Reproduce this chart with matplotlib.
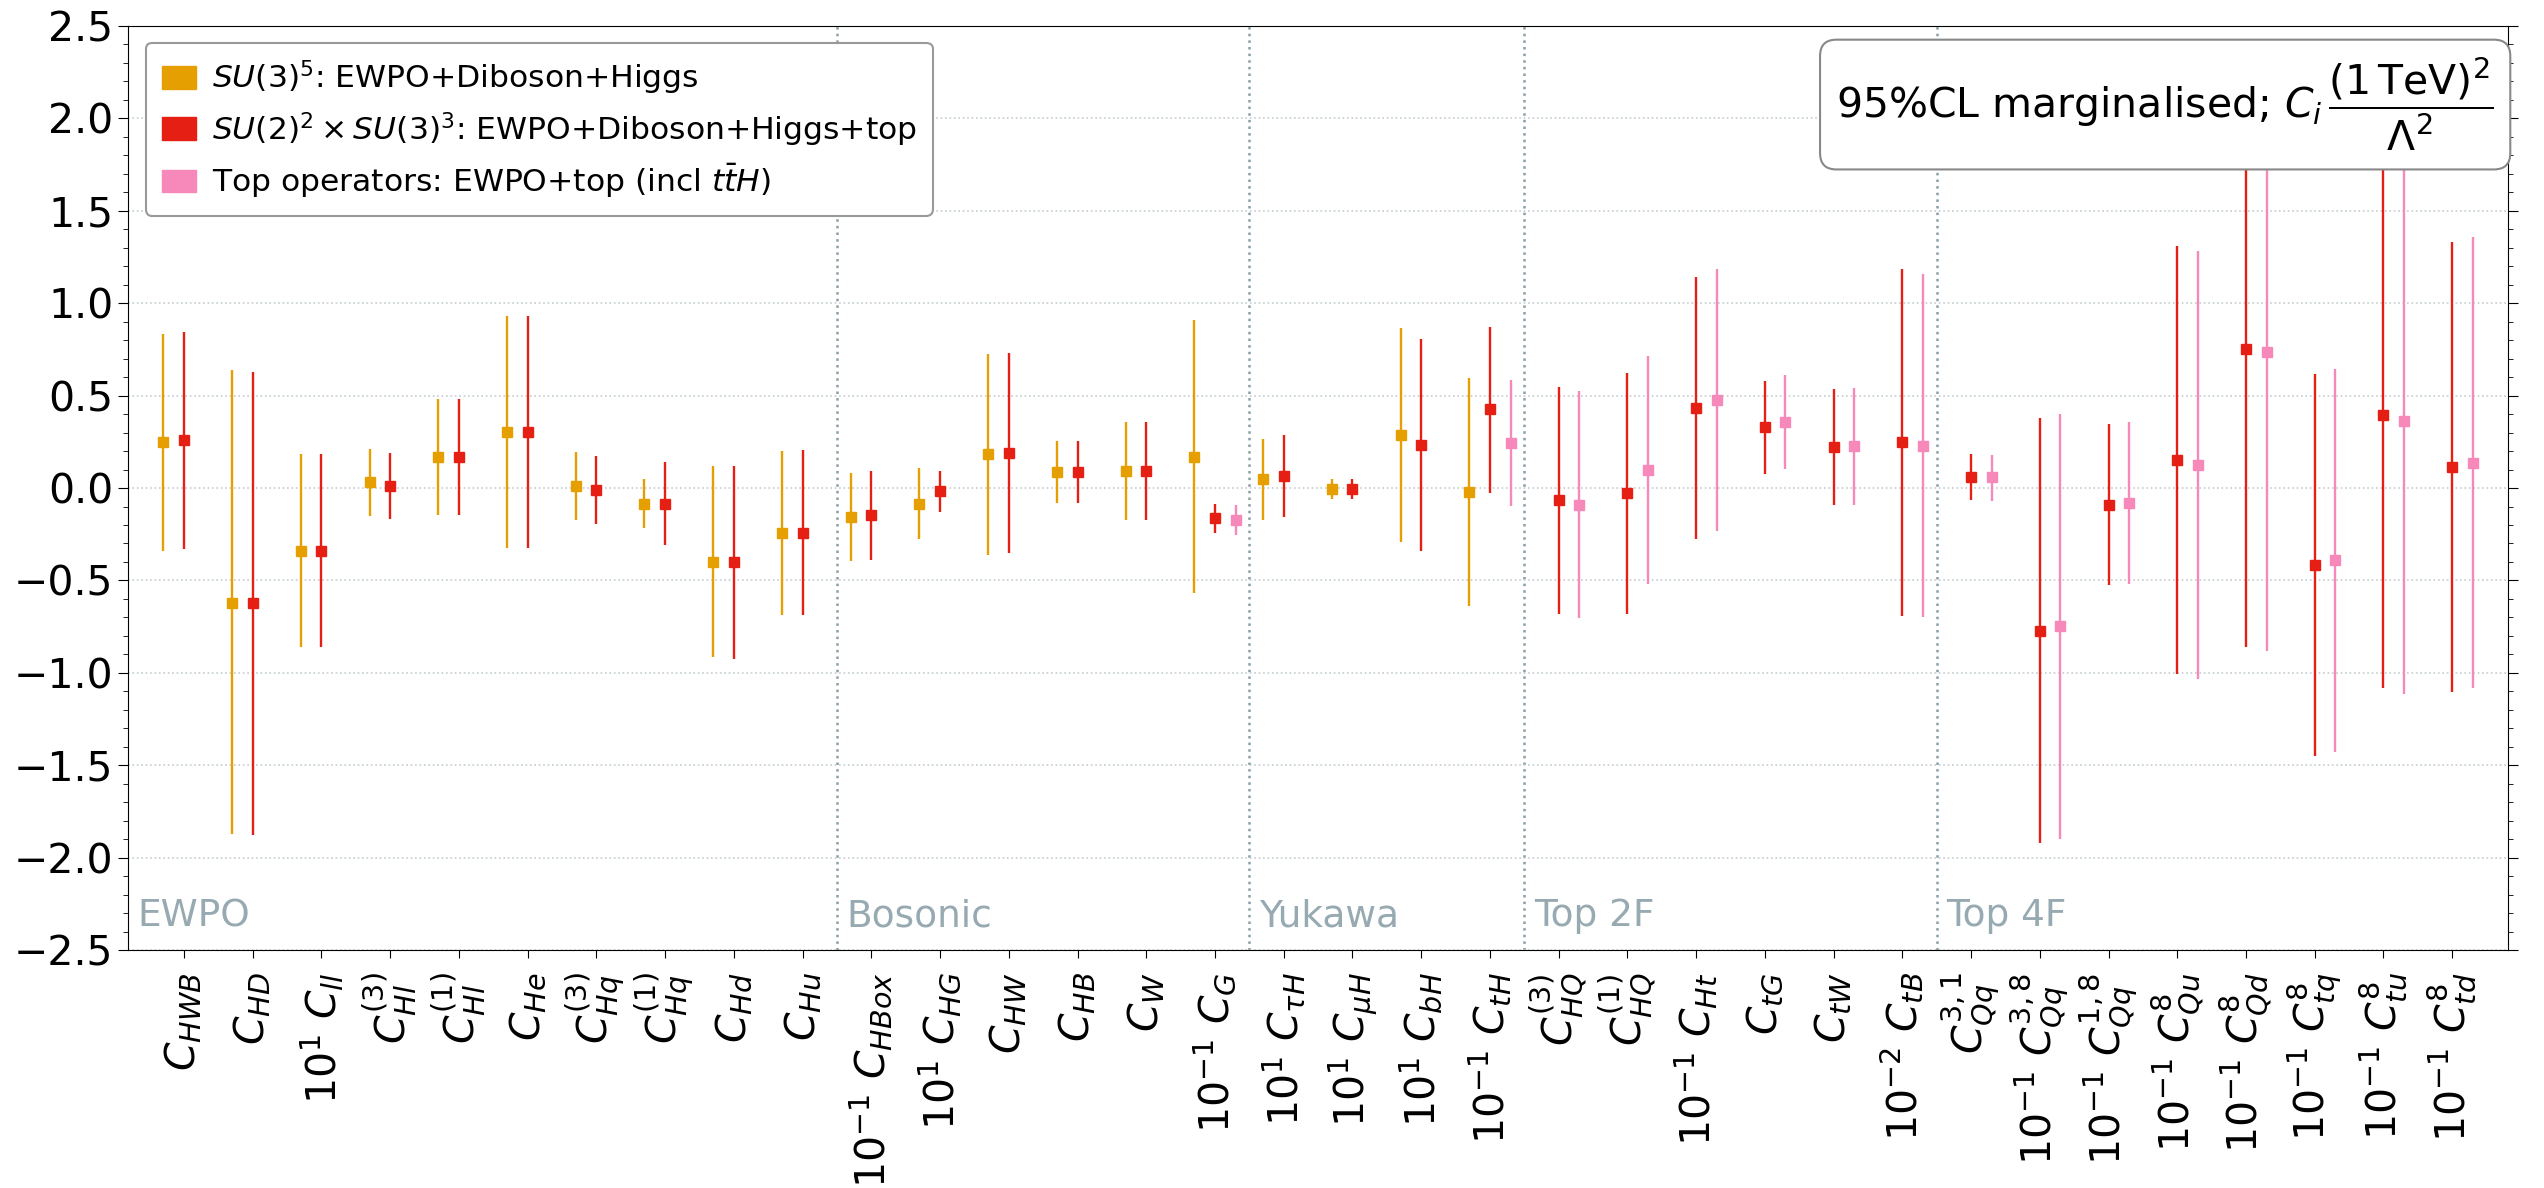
import numpy as np
import matplotlib
matplotlib.use("Agg")
import matplotlib.pyplot as plt
from matplotlib.patches import Patch
from matplotlib.ticker import MultipleLocator

# operator labels, one per column
labels = [
    r'$C_{HWB}$', r'$C_{HD}$', r'$10^{1}\ C_{ll}$', r'$C_{Hl}^{(3)}$', r'$C_{Hl}^{(1)}$',
    r'$C_{He}$', r'$C_{Hq}^{(3)}$', r'$C_{Hq}^{(1)}$', r'$C_{Hd}$', r'$C_{Hu}$',
    r'$10^{-1}\ C_{HBox}$', r'$10^{1}\ C_{HG}$', r'$C_{HW}$', r'$C_{HB}$', r'$C_{W}$',
    r'$10^{-1}\ C_{G}$',
    r'$10^{1}\ C_{\tau H}$', r'$10^{1}\ C_{\mu H}$', r'$10^{1}\ C_{bH}$', r'$10^{-1}\ C_{tH}$',
    r'$C_{HQ}^{(3)}$', r'$C_{HQ}^{(1)}$', r'$10^{-1}\ C_{Ht}$', r'$C_{tG}$', r'$C_{tW}$',
    r'$10^{-2}\ C_{tB}$',
    r'$C_{Qq}^{3,1}$', r'$10^{-1}\ C_{Qq}^{3,8}$', r'$10^{-1}\ C_{Qq}^{1,8}$',
    r'$10^{-1}\ C_{Qu}^{8}$', r'$10^{-1}\ C_{Qd}^{8}$', r'$10^{-1}\ C_{tq}^{8}$',
    r'$10^{-1}\ C_{tu}^{8}$', r'$10^{-1}\ C_{td}^{8}$',
]

# sections: name, index of first operator
sections = ["EWPO", "Bosonic", "Yukawa", "Top 2F", "Top 4F"]
section_start = [0, 10, 16, 20, 26]

# SU(3)^5 fit (EWPO+Diboson+Higgs), operators 0..19
su3_idx = list(range(20))
su3_mid = [0.25, -0.62, -0.34, 0.03, 0.17, 0.303, 0.011, -0.085, -0.399, -0.242,
           -0.155, -0.085, 0.182, 0.085, 0.094, 0.17, 0.047, -0.004, 0.285, -0.02]
su3_lo = [-0.34, -1.872, -0.859, -0.152, -0.144, -0.325, -0.175, -0.218, -0.916, -0.685,
          -0.397, -0.278, -0.361, -0.083, -0.173, -0.568, -0.175, -0.058, -0.292, -0.639]
su3_hi = [0.835, 0.637, 0.182, 0.209, 0.48, 0.931, 0.193, 0.047, 0.121, 0.198,
          0.083, 0.108, 0.725, 0.253, 0.357, 0.907, 0.267, 0.051, 0.866, 0.597]

# SU(2)^2 x SU(3)^3 fit (EWPO+Diboson+Higgs+top), all operators
su2_idx = list(range(34))
su2_mid = [0.26, -0.622, -0.339, 0.011, 0.17, 0.305, -0.009, -0.085, -0.402, -0.242,
           -0.146, -0.018, 0.191, 0.087, 0.09, -0.164, 0.067, -0.004, 0.234, 0.426,
           -0.067, -0.029, 0.435, 0.328, 0.224, 0.249,
           0.06, -0.772, -0.09, 0.15, 0.754, -0.417, 0.397, 0.112]
su2_lo = [-0.328, -1.878, -0.86, -0.17, -0.144, -0.325, -0.193, -0.31, -0.923, -0.689,
          -0.388, -0.132, -0.35, -0.079, -0.173, -0.244, -0.157, -0.058, -0.341, -0.025,
          -0.68, -0.68, -0.278, 0.076, -0.092, -0.691,
          -0.065, -1.921, -0.527, -1.005, -0.86, -1.452, -1.08, -1.106]
su2_hi = [0.846, 0.63, 0.182, 0.188, 0.482, 0.933, 0.171, 0.142, 0.117, 0.207,
          0.094, 0.094, 0.732, 0.256, 0.357, -0.085, 0.285, 0.051, 0.808, 0.871,
          0.545, 0.624, 1.144, 0.579, 0.538, 1.187,
          0.184, 0.377, 0.348, 1.308, 2.37, 0.617, 1.87, 1.331]

# top-only fit (EWPO+top incl ttH)
top_idx = [15, 19] + list(range(20, 34))
top_mid = [-0.171, 0.244, -0.09, 0.099, 0.478, 0.359, 0.225, 0.229,
           0.058, -0.749, -0.083, 0.124, 0.735, -0.392, 0.364, 0.137]
top_lo = [-0.253, -0.097, -0.704, -0.518, -0.233, 0.103, -0.092, -0.70,
          -0.069, -1.897, -0.518, -1.034, -0.88, -1.427, -1.113, -1.08]
top_hi = [-0.092, 0.583, 0.523, 0.714, 1.185, 0.613, 0.541, 1.16,
          0.18, 0.402, 0.355, 1.282, 2.35, 0.644, 1.84, 1.356]

c_su3 = '#E69F00'
c_su2 = '#E61F14'
c_top = '#F788BA'
grey = '#97A9B1'

fig = plt.figure(figsize=(25.44, 11.88), dpi=100)
ax = fig.add_axes([0.0503, 0.2003, 0.9355, 0.7778])

def draw(idx, mid, lo, hi, shift, col):
    x = np.array(idx) + shift
    mid = np.array(mid)
    err = [mid - np.array(lo), np.array(hi) - mid]
    ax.errorbar(x, mid, yerr=err, fmt='s', ms=7.4, color=col, mec=col,
                elinewidth=1.7, capsize=0, zorder=3)

draw(su3_idx, su3_mid, su3_lo, su3_hi, -0.3, c_su3)
draw(su2_idx, su2_mid, su2_lo, su2_hi, 0.0, c_su2)
draw(top_idx, top_mid, top_lo, top_hi, 0.3, c_top)

ax.set_xlim(-0.815, 33.81)
ax.set_ylim(-2.5, 2.5)
ax.yaxis.set_major_locator(MultipleLocator(0.5))
ax.yaxis.set_minor_locator(MultipleLocator(0.1))
ax.grid(axis='y', which='major', ls=':', lw=1.2, color='#c3cdd2', zorder=0)

# section separators and names
for name, start in zip(sections, section_start):
    xs = start - 0.5 if start > 0 else -0.815
    if start > 0:
        ax.axvline(xs, ls=':', lw=1.8, color='#8a9ea8', zorder=1)
    ax.text(xs + 0.14, -2.37, name, fontsize=27, color=grey, va='baseline', ha='left')

ax.set_xticks(range(len(labels)))
ax.set_xticklabels(labels, rotation=90, fontsize=29.5)
ax.tick_params(axis='x', length=6, pad=10)
ax.tick_params(axis='y', which='major', length=7, labelsize=29.5, right=True)
ax.tick_params(axis='y', which='minor', length=3.5, right=True)

handles = [Patch(color=c_su3), Patch(color=c_su2), Patch(color=c_top)]
names = [r'$SU(3)^5$: EWPO+Diboson+Higgs',
         r'$SU(2)^2\times SU(3)^3$: EWPO+Diboson+Higgs+top',
         r'Top operators: EWPO+top (incl $t\bar{t}H$)']
leg = ax.legend(handles, names, loc='upper left', bbox_to_anchor=(0.0076, 0.982),
                borderaxespad=0, fontsize=22.6, handlelength=1.1, handleheight=0.75,
                handletextpad=0.5, labelspacing=0.42, borderpad=0.5,
                framealpha=1, edgecolor='#999999', fancybox=True)
leg.get_frame().set_linewidth(1.5)
leg.set_zorder(5)

ax.text(0.856, 0.915, r'95%CL marginalised; $C_i\,\dfrac{(1\,\mathrm{TeV})^2}{\Lambda^2}$',
        transform=ax.transAxes, fontsize=29.5, ha='center', va='center', zorder=6,
        bbox=dict(boxstyle='round,pad=0.4', fc='white', ec='#888888', lw=1.5))

fig.savefig('out.png', dpi=100)
